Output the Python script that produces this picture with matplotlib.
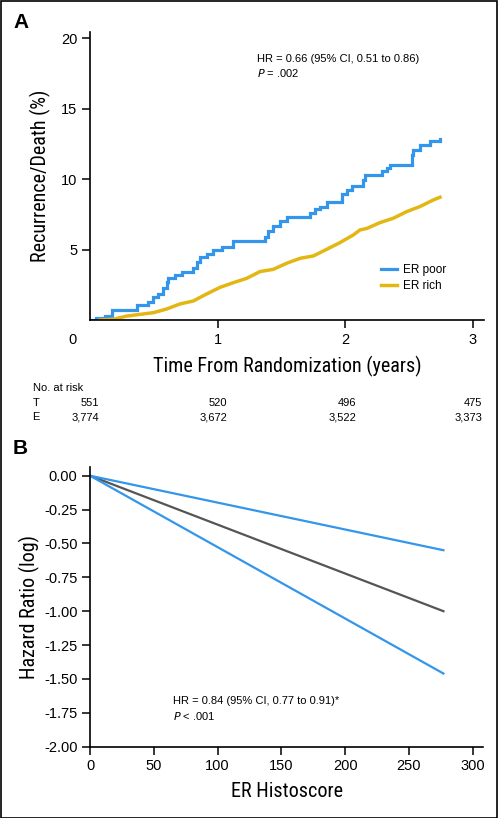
import matplotlib
matplotlib.use("Agg")
import matplotlib.pyplot as plt
from matplotlib.patches import Rectangle
from matplotlib import font_manager

plt.rcParams['font.family'] = ['Liberation Sans', 'DejaVu Sans']

# ---------------- Panel A data ----------------
poor_t = [0.0, 0.05, 0.12, 0.175, 0.366, 0.458, 0.497, 0.536, 0.575, 0.601, 0.614,
          0.667, 0.719, 0.81, 0.837, 0.863, 0.915, 0.967, 1.033, 1.124, 1.373,
          1.399, 1.438, 1.49, 1.542, 1.725, 1.765, 1.804, 1.856, 1.974, 2.013,
          2.052, 2.144, 2.157, 2.288, 2.327, 2.353, 2.523, 2.536, 2.588, 2.667, 2.745]
poor_y = [0.0, 0.12, 0.28, 0.71, 1.07, 1.3, 1.6, 1.85, 2.25, 2.7, 3.0,
          3.2, 3.4, 3.7, 4.15, 4.5, 4.7, 5.0, 5.2, 5.6, 5.9,
          6.3, 6.7, 7.0, 7.3, 7.6, 7.9, 8.05, 8.4, 8.95, 9.25,
          9.55, 9.95, 10.3, 10.55, 10.8, 11.0, 11.7, 12.1, 12.45, 12.7, 12.85]

rich_t = [0.078, 0.183, 0.288, 0.392, 0.497, 0.601, 0.706, 0.81, 0.915, 1.02,
          1.124, 1.229, 1.333, 1.438, 1.542, 1.647, 1.752, 1.856, 1.961, 2.065,
          2.118, 2.17, 2.275, 2.379, 2.484, 2.588, 2.693, 2.745]
rich_y = [0.0, 0.05, 0.28, 0.4, 0.52, 0.78, 1.14, 1.35, 1.85, 2.32,
          2.65, 2.96, 3.44, 3.6, 4.03, 4.38, 4.55, 5.02, 5.5, 6.04,
          6.4, 6.5, 6.92, 7.23, 7.7, 8.06, 8.53, 8.72]

series_names = ["ER poor", "ER rich"]
risk_rows = ["T", "E"]
risk_T = ["551", "520", "496", "475"]
risk_E = ["3,774", "3,672", "3,522", "3,373"]

# ---------------- Panel B data ----------------
score_x = [0, 277]
hr_est = [0.0, -1.0]
hr_upper = [0.0, -0.55]
hr_lower = [0.0, -1.46]

BLUE = "#3496ea"
YEL = "#e3b713"
GRAY = "#555555"

# pick a condensed font for axis titles if available
names = {f.name for f in font_manager.fontManager.ttflist}
narrow_name = None
for cand in ['Liberation Sans Narrow', 'DejaVu Sans Condensed', 'Roboto Condensed',
             'Open Sans Condensed', 'Noto Sans Condensed']:
    if cand in names:
        narrow_name = cand
        break
if narrow_name is not None:
    narrow = [narrow_name, 'DejaVu Sans']
    title_fs = 14.5
else:
    narrow = ['Liberation Sans', 'DejaVu Sans']
    title_fs = 13

W, H = 498, 818
fig = plt.figure(figsize=(W / 100, H / 100), dpi=100)

def fx(px):
    return px / W

def fy(py):
    return 1 - py / H

# ---------------- Panel A ----------------
axA = fig.add_axes([fx(90), fy(320), fx(484) - fx(90), fy(31.7) - fy(320)])
axA.step(poor_t, poor_y, where='post', color=BLUE, lw=2.3, label=series_names[0],
         solid_joinstyle='miter')
axA.plot(rich_t, rich_y, color=YEL, lw=2.5, label=series_names[1])
axA.set_xlim(0, 3.09)
axA.set_ylim(0, 20.48)
axA.set_xticks([1, 2, 3])
axA.set_yticks([5, 10, 15, 20])
axA.tick_params(labelsize=10.5, length=6, width=1.1, pad=3)
for s in ['top', 'right']:
    axA.spines[s].set_visible(False)
for s in ['left', 'bottom']:
    axA.spines[s].set_linewidth(1.2)
axA.text(-0.035, -0.045, "0", transform=axA.transAxes, ha='right', va='top', fontsize=10.5)
axA.set_ylabel("Recurrence/Death (%)", family=narrow, fontsize=title_fs, labelpad=7.5)
axA.set_xlabel("Time From Randomization (years)", family=narrow, fontsize=title_fs,
               labelpad=7)
axA.text(0.424, 0.905, "HR = 0.66 (95% CI, 0.51 to 0.86)", transform=axA.transAxes,
         fontsize=8, va='center', ha='left')
axA.text(0.424, 0.857, "$\\it{P}$ = .002", transform=axA.transAxes,
         fontsize=8, va='center', ha='left')
axA.legend(loc='lower right', bbox_to_anchor=(0.93, 0.06), frameon=False, fontsize=8.5,
           handlelength=1.3, handletextpad=0.5, labelspacing=0.35)

fig.text(fx(13), fy(23), "A", fontsize=15, fontweight='bold', ha='left', va='center')

# at-risk table
fig.text(fx(32.5), fy(388), "No. at risk", fontsize=8, ha='left', va='center')
for r, (name, vals) in enumerate(zip(risk_rows, [risk_T, risk_E])):
    y = fy(403 + 14 * r)
    fig.text(fx(32.5), y, name, fontsize=8, ha='left', va='center')
    for xpos, v in zip([99.5, 227, 356, 482.5], vals):
        fig.text(fx(xpos), y, v, fontsize=8, ha='right', va='center')

# ---------------- Panel B ----------------
axB = fig.add_axes([fx(90), fy(746.7), fx(483) - fx(90), fy(467.3) - fy(746.7)])
axB.plot(score_x, hr_est, color=GRAY, lw=1.6)
axB.plot(score_x, hr_upper, color=BLUE, lw=1.6)
axB.plot(score_x, hr_lower, color=BLUE, lw=1.6)
axB.set_xlim(0, 308)
axB.set_ylim(-2.0, 0.062)
axB.set_xticks([0, 50, 100, 150, 200, 250, 300])
axB.set_yticks([0, -0.25, -0.5, -0.75, -1.0, -1.25, -1.5, -1.75, -2.0])
axB.set_yticklabels(["0.00", "-0.25", "-0.50", "-0.75", "-1.00", "-1.25", "-1.50",
                     "-1.75", "-2.00"])
axB.tick_params(labelsize=10.5, length=6, width=1.1, pad=3)
for s in ['top', 'right']:
    axB.spines[s].set_visible(False)
for s in ['left', 'bottom']:
    axB.spines[s].set_linewidth(1.2)
axB.set_ylabel("Hazard Ratio (log)", family=narrow, fontsize=title_fs, labelpad=3)
axB.set_xlabel("ER Histoscore", family=narrow, fontsize=title_fs, labelpad=6)
axB.text(0.21, 0.163, "HR = 0.84 (95% CI, 0.77 to 0.91)*", transform=axB.transAxes,
         fontsize=8, va='center', ha='left')
axB.text(0.21, 0.11, "$\\it{P}$ < .001", transform=axB.transAxes,
         fontsize=8, va='center', ha='left')

fig.text(fx(13), fy(449), "B", fontsize=15, fontweight='bold', ha='left', va='center')

# figure frame
fig.patches.append(Rectangle((0.5 / W, 0.5 / H), 1 - 1.5 / W, 1 - 1.5 / H,
                             transform=fig.transFigure, fill=False, lw=1.2,
                             edgecolor='black'))

fig.savefig("out.png", dpi=100)
